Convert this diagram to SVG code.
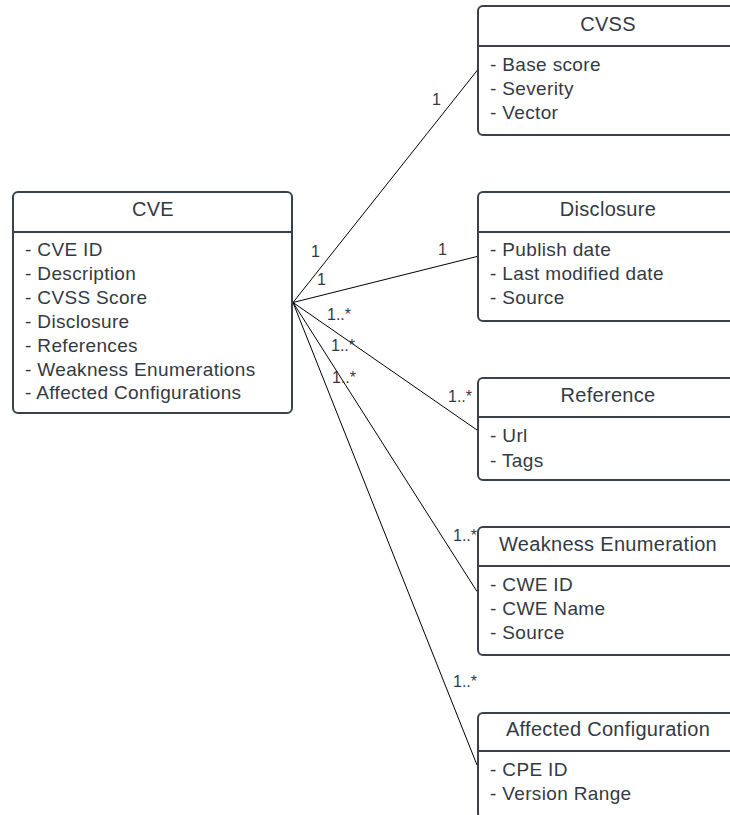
<svg xmlns="http://www.w3.org/2000/svg" width="730" height="815" viewBox="0 0 730 815">
<style>
.box{fill:#ffffff;stroke:#3a414a;stroke-width:2}
.sep{stroke:#3a414a;stroke-width:2}
.title{font-family:"Liberation Sans",Arial,sans-serif;font-size:20px;letter-spacing:0.3px;fill:#333a44;text-anchor:middle}
.item{font-family:"Liberation Sans",Arial,sans-serif;font-size:19px;letter-spacing:0.35px;fill:#333a44}
.lbl{font-family:"Liberation Sans",Arial,sans-serif;font-size:16px;fill:#333a44}
.conn{stroke:#000000;stroke-width:1;fill:none}
</style>
<rect width="730" height="815" fill="#ffffff"/>
<g id="connectors">
<line class="conn" x1="293" y1="302.5" x2="477.5" y2="70"/>
<line class="conn" x1="293" y1="302.5" x2="477" y2="256.5"/>
<line class="conn" x1="293" y1="302.5" x2="477" y2="430"/>
<line class="conn" x1="293" y1="302.5" x2="477" y2="591.5"/>
<line class="conn" x1="293" y1="302.5" x2="477" y2="765"/>
<text class="lbl" x="432" y="105">1</text>
<text class="lbl" x="311" y="257">1</text>
<text class="lbl" x="317" y="285">1</text>
<text class="lbl" x="438" y="255">1</text>
<text class="lbl" x="327" y="320">1..*</text>
<text class="lbl" x="331" y="351">1..*</text>
<text class="lbl" x="332" y="383">1..*</text>
<text class="lbl" x="448" y="402">1..*</text>
<text class="lbl" x="453" y="541">1..*</text>
<text class="lbl" x="453" y="687">1..*</text>
</g>
<g id="cve">
<rect class="box" x="13" y="192" width="279" height="221" rx="5"/>
<line class="sep" x1="13" y1="232" x2="292" y2="232"/>
<text class="title" x="153" y="216">CVE</text>
<text class="item" x="25" y="256">- CVE ID</text>
<text class="item" x="25" y="280">- Description</text>
<text class="item" x="25" y="304">- CVSS Score</text>
<text class="item" x="25" y="328">- Disclosure</text>
<text class="item" x="25" y="351.5">- References</text>
<text class="item" x="25" y="375.5">- Weakness Enumerations</text>
<text class="item" x="25" y="399">- Affected Configurations</text>
</g>
<g id="cvss">
<rect class="box" x="478" y="6" width="262" height="129" rx="5"/>
<line class="sep" x1="478" y1="46" x2="740" y2="46"/>
<text class="title" x="608" y="31">CVSS</text>
<text class="item" x="490" y="71">- Base score</text>
<text class="item" x="490" y="95">- Severity</text>
<text class="item" x="490" y="119">- Vector</text>
</g>
<g id="disclosure">
<rect class="box" x="478" y="192" width="262" height="129" rx="5"/>
<line class="sep" x1="478" y1="232" x2="740" y2="232"/>
<text class="title" x="608" y="216">Disclosure</text>
<text class="item" x="490" y="256">- Publish date</text>
<text class="item" x="490" y="280">- Last modified date</text>
<text class="item" x="490" y="304">- Source</text>
</g>
<g id="reference">
<rect class="box" x="478" y="378" width="262" height="102" rx="5"/>
<line class="sep" x1="478" y1="417" x2="740" y2="417"/>
<text class="title" x="608" y="402">Reference</text>
<text class="item" x="490" y="442">- Url</text>
<text class="item" x="490" y="466.5">- Tags</text>
</g>
<g id="weakness">
<rect class="box" x="478" y="527" width="262" height="128" rx="5"/>
<line class="sep" x1="478" y1="566" x2="740" y2="566"/>
<text class="title" x="608" y="551">Weakness Enumeration</text>
<text class="item" x="490" y="591">- CWE ID</text>
<text class="item" x="490" y="615">- CWE Name</text>
<text class="item" x="490" y="639">- Source</text>
</g>
<g id="affected">
<rect class="box" x="478" y="713" width="262" height="105" rx="5"/>
<line class="sep" x1="478" y1="751" x2="740" y2="751"/>
<text class="title" x="608" y="736">Affected Configuration</text>
<text class="item" x="490" y="776">- CPE ID</text>
<text class="item" x="490" y="800">- Version Range</text>
</g>
</svg>
